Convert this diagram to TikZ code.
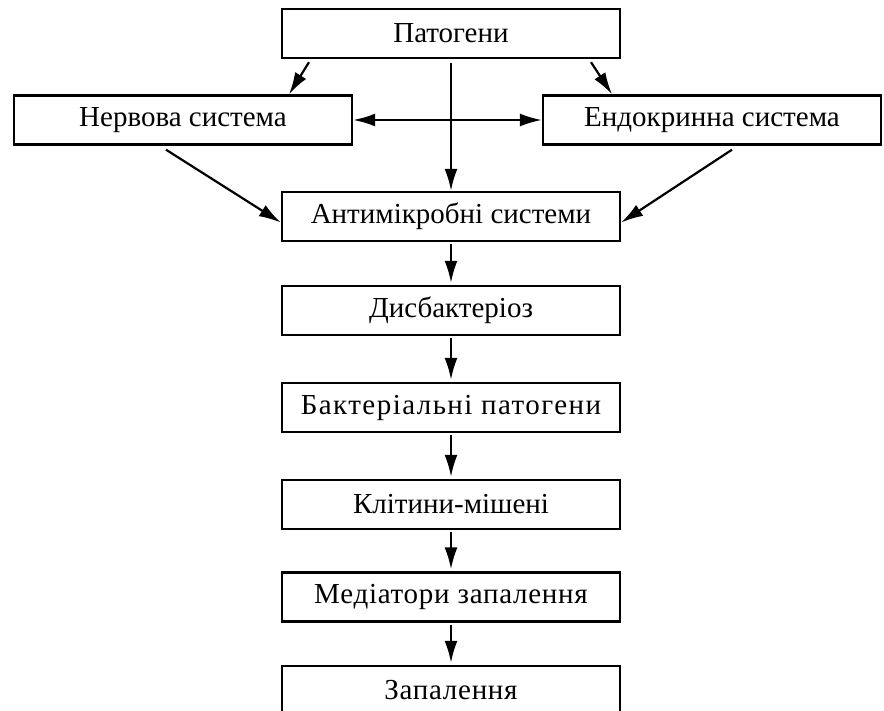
\documentclass[tikz,border=0pt]{standalone}
\usepackage{fontspec}
\setmainfont{Liberation Serif}
\usetikzlibrary{arrows.meta}

\tikzset{
  blok/.style={draw, line width=1.2pt, minimum width=169pt, minimum height=24.5pt,
    inner sep=0pt, font=\fontsize{14.5}{16}\selectfont},
  strilka/.style={-{Latex[length=11pt,width=6.5pt]}, line width=1.1pt},
}

\begin{document}
\begin{tikzpicture}[x=0.5pt,y=-0.5pt]
    \useasboundingbox (0,0) rectangle (884,711);
    \node[blok] (pat) at (451,33.5) {Патогени};
    \node[blok] (nerv) at (183,120) {Нервова система};
    \node[blok] (endo) at (712,120) {Ендокринна система};
    \node[blok] (anti) at (451,216.5) {Антимікробні системи};
    \node[blok] (dys) at (451,310.5) {Дисбактеріоз};
    \node[blok] (bakt) at (451,407.5) {\addfontfeature{LetterSpace=5}Бактеріальні патогени};
    \node[blok] (klit) at (451,504.5) {Клітини-мішені};
    \node[blok] (med) at (451,597) {\addfontfeature{LetterSpace=2.5}Медіатори запалення};
    \node[blok] (zap) at (451,690.5) {\addfontfeature{LetterSpace=2.5}Запалення};
    \draw[strilka] ([xshift=-71pt,yshift=-1.5pt]pat.south) -- ([xshift=53pt]nerv.north);
    \draw[strilka] ([xshift=70pt,yshift=-1.5pt]pat.south) -- ([xshift=-50pt]endo.north);
    \draw[strilka, shorten <=2pt] (pat.south) -- (anti.north);
    \draw[strilka, {Latex[length=11pt,width=6.5pt]}-{Latex[length=11pt,width=6.5pt]}] (nerv.east) -- (endo.west);
    \draw[strilka] ([xshift=-8.5pt,yshift=-2pt]nerv.south) -- ([yshift=-3pt]anti.west);
    \draw[strilka] ([xshift=10pt,yshift=-2pt]endo.south) -- ([yshift=-3pt]anti.east);
    \foreach \a/\b in {anti/dys,dys/bakt,bakt/klit,klit/med,med/zap}
      \draw[strilka, shorten <=1pt, shorten >=1pt] (\a.south) -- (\b.north);
  \end{tikzpicture}
\end{document}
